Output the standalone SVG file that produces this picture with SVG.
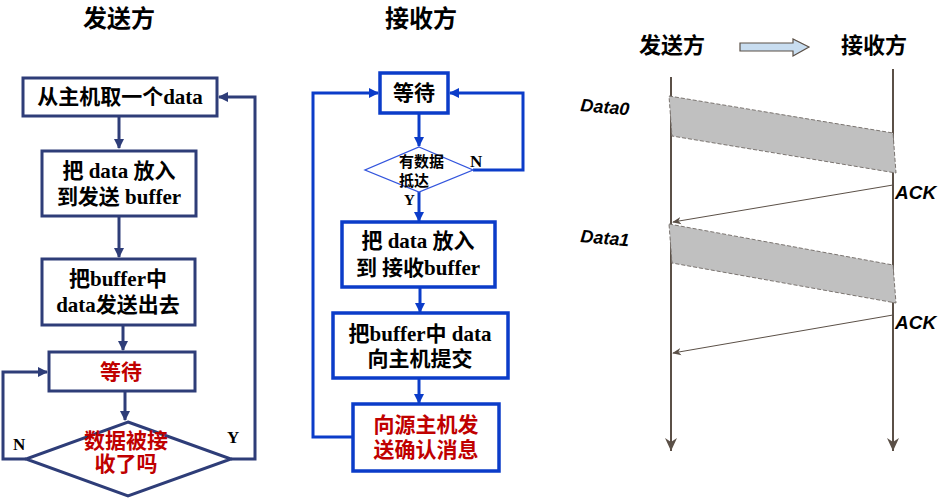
<svg xmlns="http://www.w3.org/2000/svg" width="939" height="499" viewBox="0 0 939 499">
<defs>
<style>
.bl{fill:#fff;stroke:#2E3D78;stroke-width:3}
.bm{fill:#fff;stroke:#0B3CC9;stroke-width:3.5}
.cl{fill:none;stroke:#2E3D78;stroke-width:3}
.cm{fill:none;stroke:#0B3CC9;stroke-width:3}
.t{font-family:"Liberation Serif","Noto Sans CJK SC",serif;font-weight:bold;font-size:21px;fill:#000;text-anchor:middle}
.red{fill:#C00000}
.ti{font-family:"Noto Sans CJK SC","Liberation Sans",sans-serif;font-weight:bold;font-size:24px;fill:#000;text-anchor:middle}
.yn{font-family:"Liberation Serif",serif;font-weight:bold;font-size:17px;fill:#000}
.lab{font-family:"Liberation Sans",Arial,sans-serif;font-weight:bold;font-style:italic;font-size:19px;fill:#000}
.tl{fill:none;stroke:#5B5047;stroke-width:2}
.pk{fill:#C0C0C0;stroke:#7A7470;stroke-width:1;stroke-dasharray:4 2}
.ack{fill:none;stroke:#5B5047;stroke-width:1}
</style>
<marker id="al" viewBox="0 0 10 10" refX="9" refY="5" markerWidth="10" markerHeight="10" markerUnits="userSpaceOnUse" orient="auto"><path d="M0,0 L10,5 L0,10 z" fill="#2E3D78"/></marker>
<marker id="am" viewBox="0 0 10 10" refX="9" refY="5" markerWidth="10" markerHeight="10" markerUnits="userSpaceOnUse" orient="auto"><path d="M0,0 L10,5 L0,10 z" fill="#0B3CC9"/></marker>
<marker id="at" viewBox="0 0 14 14" refX="13" refY="7" markerWidth="14" markerHeight="14" markerUnits="userSpaceOnUse" orient="auto"><path d="M0,1 L13,7 L0,13 L4,7 z" fill="#5B5047"/></marker>
<marker id="aa" viewBox="0 0 10 10" refX="9" refY="5" markerWidth="9" markerHeight="9" markerUnits="userSpaceOnUse" orient="auto"><path d="M0,1 L10,5 L0,9 L3,5 z" fill="#5B5047"/></marker>
</defs>
<rect width="939" height="499" fill="#fff"/>

<text class="ti" x="119" y="27">发送方</text>
<text class="ti" x="421" y="27">接收方</text>
<text class="ti" x="672" y="53" style="font-size:22px">发送方</text>
<text class="ti" x="874" y="53" style="font-size:22px">接收方</text>

<g id="connectors">
<line class="cl" x1="119" y1="116" x2="119" y2="148" marker-end="url(#al)"/>
<line class="cl" x1="119" y1="216" x2="119" y2="257" marker-end="url(#al)"/>
<line class="cl" x1="123" y1="325" x2="123" y2="350" marker-end="url(#al)"/>
<line class="cl" x1="125" y1="391" x2="125" y2="420" marker-end="url(#al)"/>
<polyline class="cl" points="26,459 3,459 3,372 47,372" marker-end="url(#al)"/>
<polyline class="cl" points="231,459 255,459 255,97 219,97" marker-end="url(#al)"/>
<line class="cm" x1="419" y1="113" x2="419" y2="146" marker-end="url(#am)"/>
<polyline class="cm" points="473,170 523,170 523,93 450,93" marker-end="url(#am)"/>
<line class="cm" x1="419" y1="192" x2="419" y2="221" marker-end="url(#am)"/>
<line class="cm" x1="420" y1="287" x2="420" y2="312" marker-end="url(#am)"/>
<line class="cm" x1="419" y1="378" x2="419" y2="403" marker-end="url(#am)"/>
<polyline class="cm" points="353,437 313,437 313,93 378,93" marker-end="url(#am)"/>
<line class="tl" x1="671" y1="77" x2="671" y2="451" marker-end="url(#at)"/>
<line class="tl" x1="893" y1="69" x2="893" y2="451" marker-end="url(#at)"/>
<line class="ack" x1="893" y1="185" x2="673" y2="222" marker-end="url(#aa)"/>
<line class="ack" x1="893" y1="315" x2="673" y2="353" marker-end="url(#aa)"/>
</g>

<text class="yn" x="13" y="450">N</text>
<text class="yn" x="227" y="443">Y</text>
<text class="yn" x="470" y="167">N</text>
<text class="yn" x="404" y="205" style="font-size:15px">Y</text>

<g id="s1"><rect class="bl" x="23" y="78" width="194" height="38"/><text class="t" x="120" y="104">从主机取一个data</text></g>
<g id="s2"><rect class="bl" x="42" y="151" width="154" height="65"/><text class="t" x="119" y="178">把 data 放入</text><text class="t" x="119" y="204">到发送 buffer</text></g>
<g id="s3"><rect class="bl" x="42" y="259" width="153" height="66"/><text class="t" x="118" y="286">把buffer中</text><text class="t" x="118" y="312">data发送出去</text></g>
<g id="s4"><rect class="bl" x="49" y="352" width="146" height="39"/><text class="t red" x="121" y="379">等待</text></g>
<g id="s5"><polygon class="bl" points="128,422 231,459 128,496 26,459"/><text class="t red" x="126" y="448">数据被接</text><text class="t red" x="126" y="471">收了吗</text></g>

<g id="r1"><rect class="bm" x="380" y="73" width="68" height="40"/><text class="t" x="414" y="100">等待</text></g>
<g id="r2"><polygon points="419,147 473,170 419,192 365,170" fill="#fff" stroke="#3355DD" stroke-width="1.3"/><text class="t" x="399" y="167" style="font-size:15px;text-anchor:start">有数据</text><text class="t" x="399" y="186" style="font-size:15px;text-anchor:start">抵达</text></g>
<g id="r3"><rect class="bm" x="342" y="222" width="153" height="65"/><text class="t" x="418" y="248">把 data 放入</text><text class="t" x="418" y="275">到 接收buffer</text></g>
<g id="r4"><rect class="bm" x="333" y="313" width="175" height="65"/><text class="t" x="420" y="341">把buffer中 data</text><text class="t" x="420" y="366">向主机提交</text></g>
<g id="r5"><rect class="bm" x="353" y="404" width="146" height="67"/><text class="t red" x="426" y="432">向源主机发</text><text class="t red" x="426" y="457">送确认消息</text></g>

<g id="flow-arrow"><polygon points="740,43 793,43 793,39 809,47 793,56 793,51 740,51" fill="#C8DDF0" stroke="#5B5047" stroke-width="1.2"/></g>

<g id="data0"><polygon class="pk" points="669,96 893,133 896,173 672,136"/><text class="lab" x="580" y="111" transform="rotate(5 580 111)" style="font-size:18px">Data0</text></g>
<g id="data1"><polygon class="pk" points="669,224 893,265 896,303 672,263"/><text class="lab" x="580" y="242" transform="rotate(5 580 242)" style="font-size:18px">Data1</text></g>
<text class="lab" x="895" y="199">ACK</text>
<text class="lab" x="895" y="329">ACK</text>
</svg>
